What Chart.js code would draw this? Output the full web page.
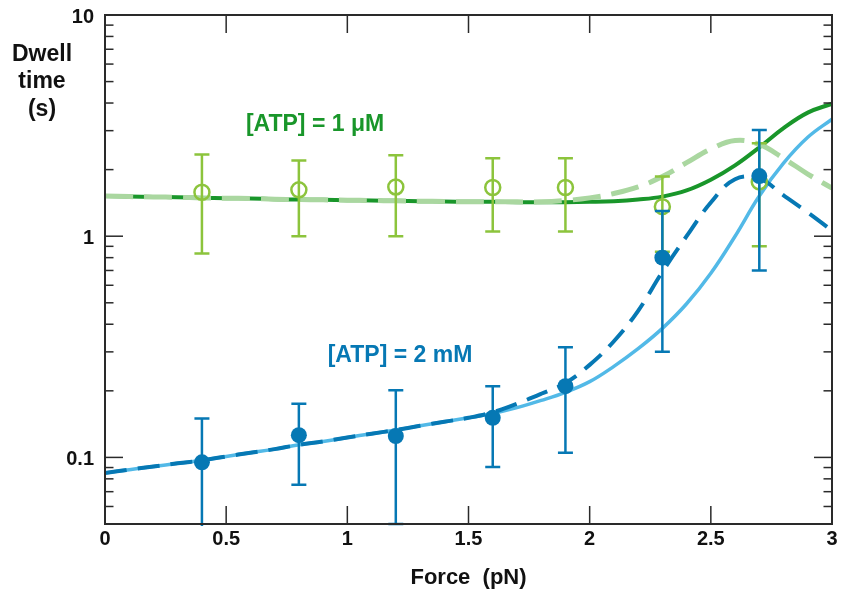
<!DOCTYPE html>
<html><head><meta charset="utf-8">
<script src="https://cdn.jsdelivr.net/npm/chart.js@4.4.1/dist/chart.umd.min.js"></script>
<style>html,body{margin:0;padding:0;background:#fff}canvas{display:block}</style>
</head><body>
<canvas id="c" width="842" height="597"></canvas>
<script>
// ---- tick labels ----
const xTickValues = [0, 0.5, 1, 1.5, 2, 2.5, 3];
const xTickLabels = ['0', '0.5', '1', '1.5', '2', '2.5', '3'];
const yTickValues = [0.1, 1, 10];
const yTickLabels = ['0.1', '1', '10'];

// ---- measured points ----
const forceData = [0.4, 0.8, 1.2, 1.6, 1.9, 2.3, 2.7];
const atp1Mean  = [1.58, 1.62, 1.67, 1.66, 1.66, 1.36, 1.76];
const atp1High  = [2.34, 2.20, 2.32, 2.25, 2.25, 1.86, 2.63];
const atp1Low   = [0.835, 1.00, 1.00, 1.05, 1.05, 0.85, 0.90];
const atp2Mean  = [0.095, 0.126, 0.125, 0.151, 0.21, 0.80, 1.87];
const atp2High  = [0.150, 0.175, 0.201, 0.210, 0.315, 1.30, 3.02];
const atp2Low   = [0.045, 0.0752, 0.050, 0.0904, 0.105, 0.30, 0.70];

// ---- fitted curves ----
const curveForce = [0,0.1,0.2,0.3,0.4,0.5,0.6,0.7,0.8,0.9,1.0,1.1,1.2,1.3,1.4,1.5,1.6,1.7,1.8,1.9,2.0,2.1,2.2,2.3,2.4,2.5,2.6,2.7,2.8,2.9,3.0];
const atp1FitSolid  = [1.52,1.51,1.505,1.50,1.49,1.485,1.48,1.47,1.465,1.46,1.455,1.45,1.445,1.44,1.435,1.43,1.43,1.425,1.425,1.425,1.43,1.44,1.465,1.51,1.61,1.80,2.09,2.52,3.08,3.62,3.97];
const atp1FitDashed = [1.52,1.51,1.505,1.50,1.49,1.485,1.48,1.47,1.465,1.46,1.455,1.45,1.445,1.44,1.435,1.43,1.43,1.43,1.43,1.45,1.49,1.56,1.67,1.86,2.15,2.48,2.71,2.60,2.25,1.91,1.65];
const atp2FitSolid  = [0.085,0.088,0.091,0.094,0.097,0.101,0.105,0.109,0.114,0.118,0.123,0.128,0.133,0.139,0.145,0.151,0.158,0.168,0.181,0.197,0.220,0.258,0.310,0.383,0.495,0.68,1.00,1.52,2.14,2.80,3.38];
const atp2FitDashed = [0.085,0.088,0.091,0.094,0.097,0.101,0.105,0.109,0.114,0.118,0.123,0.128,0.133,0.139,0.145,0.151,0.160,0.175,0.194,0.217,0.262,0.335,0.46,0.69,1.00,1.42,1.81,1.82,1.53,1.28,1.06];

const FONT = '"Liberation Sans", Arial, Helvetica, sans-serif';
const C = {
  green: '#19962a', greenLight: '#aad7a0', greenMark: '#8cc43c',
  blue: '#0678b4', blueLight: '#52b9e7', axis: '#2a2a2a', text: '#111'
};

const pts = (xs, ys) => xs.map((v, i) => ({x: v, y: ys[i]}));

const errorBars = {
  id: 'errorBars',
  beforeDatasetDraw(chart, args) {
    const ds = chart.data.datasets[args.index];
    if (!ds.errHigh) return;
    const {ctx, chartArea: a, scales: {x, y}} = chart;
    ctx.save();
    ctx.beginPath();
    ctx.rect(a.left - 2, a.top - 2, a.right - a.left + 4, a.bottom - a.top + 4);
    ctx.clip();
    ctx.strokeStyle = ds.borderColor;
    ctx.lineWidth = 2.5;
    ds.errX.forEach((f, i) => {
      const px = x.getPixelForValue(f);
      const hi = y.getPixelForValue(ds.errHigh[i]);
      const lo = y.getPixelForValue(ds.errLow[i]);
      ctx.beginPath();
      ctx.moveTo(px, hi); ctx.lineTo(px, lo);
      ctx.moveTo(px - 7.5, hi); ctx.lineTo(px + 7.5, hi);
      ctx.moveTo(px - 7.5, lo); ctx.lineTo(px + 7.5, lo);
      ctx.stroke();
    });
    ctx.restore();
  }
};

const frame = {
  id: 'frame',
  afterDraw(chart) {
    const {ctx, chartArea: a, scales: {x, y}} = chart;
    ctx.save();
    ctx.strokeStyle = C.axis;
    ctx.lineWidth = 1.5;
    const seg = (x1, y1, x2, y2) => { ctx.beginPath(); ctx.moveTo(x1, y1); ctx.lineTo(x2, y2); ctx.stroke(); };
    xTickValues.forEach(v => {
      const px = x.getPixelForValue(v);
      if (px <= a.left + 1 || px >= a.right - 1) return;
      seg(px, a.bottom, px, a.bottom - 18);
      seg(px, a.top, px, a.top + 18);
    });
    yTickValues.forEach(v => {
      const py = y.getPixelForValue(v);
      if (py <= a.top + 1 || py >= a.bottom - 1) return;
      seg(a.left, py, a.left + 18, py);
      seg(a.right, py, a.right - 18, py);
    });
    [0.01, 0.1, 1].forEach(d => {
      for (let m = 2; m <= 9; m++) {
        const v = d * m;
        if (v <= y.min * 1.0001 || v >= y.max * 0.9999) continue;
        const py = y.getPixelForValue(v);
        seg(a.left, py, a.left + 8.5, py);
        seg(a.right, py, a.right - 8.5, py);
      }
    });
    ctx.lineWidth = 2;
    ctx.strokeRect(a.left, a.top, a.right - a.left, a.bottom - a.top);

    // text labels
    ctx.textAlign = 'center';
    ctx.textBaseline = 'middle';
    ctx.fillStyle = C.text;
    ctx.font = 'bold 23px ' + FONT;
    ctx.fillText('Dwell', 42, 55);
    ctx.fillText('time', 42, 82);
    ctx.fillText('(s)', 42, 110);
    ctx.font = 'bold 23px ' + FONT;
    ctx.fillStyle = C.green;
    ctx.fillText('[ATP] = 1 \u03bcM', 315, 125);
    ctx.fillStyle = C.blue;
    ctx.fillText('[ATP] = 2 mM', 400, 356);
    ctx.restore();
  }
};

const curve = {showLine: true, pointRadius: 0, tension: 0.4};

new Chart(document.getElementById('c'), {
  type: 'scatter',
  data: {
    datasets: [
      { label: '2 mM data', data: pts(forceData, atp2Mean), order: 0,
        errX: forceData, errHigh: atp2High, errLow: atp2Low,
        borderColor: C.blue, backgroundColor: C.blue, pointRadius: 8, pointBorderWidth: 0 },
      { label: '1 uM data', data: pts(forceData, atp1Mean), order: 1,
        errX: forceData, errHigh: atp1High, errLow: atp1Low,
        borderColor: C.greenMark, backgroundColor: 'rgba(0,0,0,0)', pointRadius: 7.5, pointBorderWidth: 2.5 },
      Object.assign({ label: '2 mM dashed', data: pts(curveForce, atp2FitDashed), order: 2,
        borderColor: C.blue, borderWidth: 4, borderDash: [22, 11] }, curve),
      Object.assign({ label: '2 mM solid', data: pts(curveForce, atp2FitSolid), order: 3,
        borderColor: C.blueLight, borderWidth: 3.5 }, curve),
      Object.assign({ label: '1 uM dashed', data: pts(curveForce, atp1FitDashed), order: 4,
        borderColor: C.greenLight, borderWidth: 5, borderDash: [28, 11] }, curve),
      Object.assign({ label: '1 uM solid', data: pts(curveForce, atp1FitSolid), order: 5,
        borderColor: C.green, borderWidth: 4 }, curve)
    ]
  },
  options: {
    responsive: false,
    animation: false,
    devicePixelRatio: 1,
    events: [],
    layout: { padding: { top: 15, right: 10, left: 0, bottom: 0 } },
    plugins: { legend: { display: false }, tooltip: { enabled: false } },
    scales: {
      x: {
        type: 'linear', min: 0, max: 3,
        grid: { display: false, drawTicks: false }, border: { display: false },
        afterBuildTicks: s => { s.ticks = xTickValues.map(v => ({value: v})); },
        afterFit: s => { s.height = 73; s.paddingLeft = 0; s.paddingRight = 0; },
        ticks: { padding: 3, color: C.text, font: { family: FONT, size: 20, weight: 'bold' },
          callback: (v) => xTickLabels[xTickValues.indexOf(v)] },
        title: { display: true, text: 'Force  (pN)', color: C.text,
          font: { family: FONT, size: 22, weight: 'bold' }, padding: { top: 0, bottom: 6 } }
      },
      y: {
        type: 'logarithmic', min: 0.05, max: 10,
        grid: { display: false, drawTicks: false }, border: { display: false },
        afterBuildTicks: s => { s.ticks = yTickValues.map(v => ({value: v})); },
        afterFit: s => { s.width = 105; s.paddingTop = 0; s.paddingBottom = 0; },
        ticks: { padding: 11, labelOffset: 2, color: C.text, font: { family: FONT, size: 20, weight: 'bold' },
          callback: (v) => yTickLabels[yTickValues.indexOf(v)] }
      }
    }
  },
  plugins: [errorBars, frame]
});
</script>
</body></html>
